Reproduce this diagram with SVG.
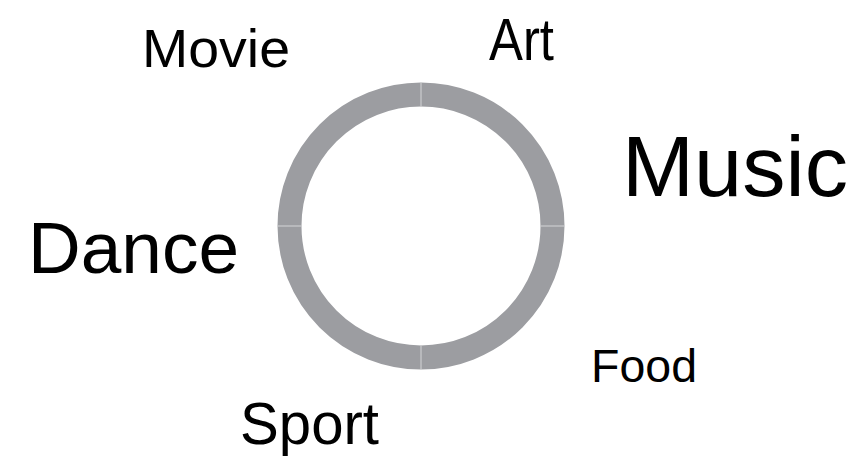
<svg xmlns="http://www.w3.org/2000/svg" width="862" height="458" viewBox="0 0 862 458">
<style>
.lbl{font-family:"Liberation Sans","DejaVu Sans",sans-serif;fill:#000;}
.ring{fill:none;stroke:#9c9da1;stroke-width:24;}
.seam{stroke:#d4d5d7;stroke-width:1;}
</style>
<rect width="862" height="458" fill="#fff"/>
<g id="ring">
<circle class="ring" cx="421" cy="226" r="131.5"/>
<line class="seam" x1="421" y1="82" x2="421" y2="106"/>
<line class="seam" x1="421" y1="346" x2="421" y2="370"/>
<line class="seam" x1="277" y1="226" x2="301" y2="226"/>
<line class="seam" x1="541" y1="226" x2="565" y2="226"/>
</g>
<g id="movie"><text class="lbl" x="142" y="67" font-size="54" textLength="148" lengthAdjust="spacingAndGlyphs">Movie</text></g>
<g id="art"><text class="lbl" x="489" y="60" font-size="60" textLength="65" lengthAdjust="spacingAndGlyphs">Art</text></g>
<g id="music"><text class="lbl" x="622" y="196" font-size="86" textLength="226" lengthAdjust="spacingAndGlyphs">Music</text></g>
<g id="dance"><text class="lbl" x="28" y="273" font-size="72" textLength="211" lengthAdjust="spacingAndGlyphs">Dance</text></g>
<g id="sport"><text class="lbl" x="240" y="444" font-size="60" textLength="139" lengthAdjust="spacingAndGlyphs">Sport</text></g>
<g id="food"><text class="lbl" x="591" y="382" font-size="46" textLength="106" lengthAdjust="spacingAndGlyphs">Food</text></g>
</svg>
